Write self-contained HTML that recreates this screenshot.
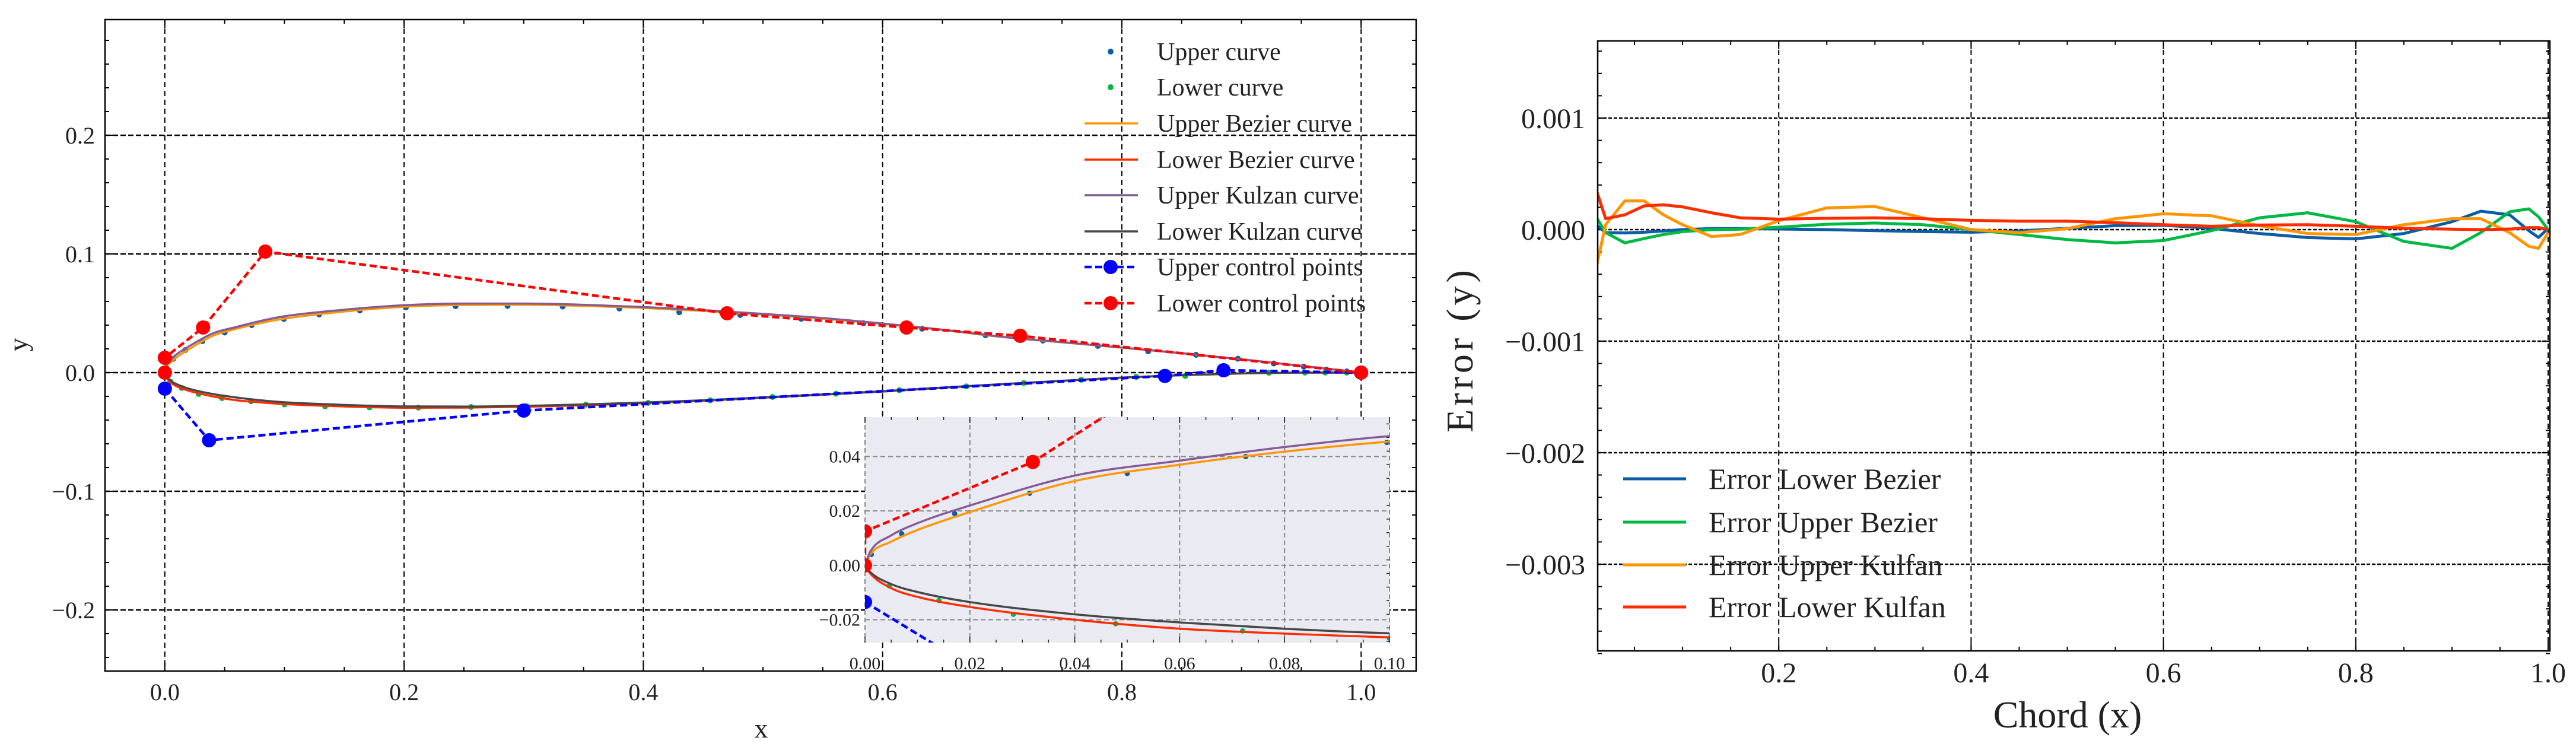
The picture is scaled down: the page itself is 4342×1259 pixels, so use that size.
<!DOCTYPE html>
<html><head><meta charset="utf-8"><style>
html,body{margin:0;padding:0;background:#fff;}
svg{display:block;font-family:"Liberation Serif",serif;}
</style></head><body>
<svg id="fig" width="4342" height="1259" viewBox="0 0 4342 1259" xmlns="http://www.w3.org/2000/svg">
<defs>
<clipPath id="clipL"><rect x="177" y="33" width="2210" height="1098"/></clipPath>
<clipPath id="clipI"><rect x="1458" y="703" width="884" height="380"/></clipPath>
<clipPath id="clipR"><rect x="2693" y="69" width="1605" height="1028"/></clipPath>
</defs>
<g id="left"></g>
<g id="inset"></g>
<g id="right"></g>
</svg>
<script>
// ---- airfoil data ----
const curveX = [0,0.001,0.005,0.01,0.02,0.04,0.06,0.08,0.1,0.15,0.2,0.25,0.3,0.35,0.4,0.45,0.5,0.55,0.6,0.65,0.7,0.75,0.8,0.85,0.9,0.95,1.0];
const upperBezier = [0,0.004,0.0087,0.013,0.0196,0.031,0.037,0.0418,0.0455,0.0515,0.0555,0.057,0.0572,0.0562,0.0545,0.052,0.049,0.0455,0.041,0.036,0.030,0.0255,0.021,0.0163,0.0112,0.0057,0];
const upperKulfan = [0,0.005,0.011,0.0155,0.022,0.033,0.0385,0.0435,0.0475,0.053,0.0568,0.0582,0.0582,0.0572,0.0553,0.0527,0.0495,0.046,0.0414,0.0362,0.0302,0.0257,0.0211,0.0164,0.0112,0.0057,0];
const lowerBezier = [0,-0.003,-0.0084,-0.0116,-0.0153,-0.020,-0.0233,-0.0251,-0.0265,-0.0285,-0.0296,-0.0295,-0.0288,-0.0275,-0.0258,-0.0238,-0.0212,-0.0186,-0.016,-0.0128,-0.0098,-0.007,-0.0042,-0.0022,-0.0007,0,0];
const lowerKulfan = [0,-0.0025,-0.0069,-0.0098,-0.0135,-0.018,-0.021,-0.0233,-0.025,-0.0272,-0.0285,-0.0286,-0.028,-0.0268,-0.0252,-0.0233,-0.0209,-0.0184,-0.0157,-0.0126,-0.0097,-0.0069,-0.0042,-0.0022,-0.0007,0,0];
const upperDotX = [0.0012,0.007,0.0171,0.0314,0.05,0.0726,0.0995,0.129,0.163,0.2015,0.243,0.2865,0.3326,0.38,0.43,0.481,0.532,0.584,0.633,0.686,0.734,0.78,0.822,0.862,0.897,0.927,0.952,0.971,0.988];
const upperDotY = [0.004,0.0116,0.019,0.0265,0.0338,0.040,0.0452,0.049,0.0524,0.055,0.056,0.0562,0.0557,0.054,0.0509,0.0486,0.0453,0.0416,0.037,0.0315,0.027,0.0225,0.018,0.015,0.0117,0.0077,0.005,0.0025,0.001];
const lowerDotX = [0.0046,0.0141,0.0283,0.0478,0.072,0.1,0.134,0.171,0.212,0.256,0.3025,0.352,0.404,0.456,0.508,0.561,0.614,0.67,0.718,0.766,0.812,0.853,0.888,0.923,0.953,0.97,0.988];
const lowerDotY = [-0.0075,-0.0129,-0.018,-0.0215,-0.0241,-0.0268,-0.0284,-0.0293,-0.0295,-0.029,-0.0284,-0.027,-0.0255,-0.0234,-0.0205,-0.0178,-0.0148,-0.0116,-0.0088,-0.006,-0.0036,-0.0028,-0.0008,-0.0001,0,0,0];
const upperCtrlX = [0,0.037,0.3,0.836,0.885,1.0];
const upperCtrlY = [-0.0135,-0.057,-0.032,-0.0028,0.002,0];
const lowerCtrlX = [0,0,0.032,0.084,0.47,0.62,0.715,1.0];
const lowerCtrlY = [0,0.0125,0.038,0.102,0.05,0.038,0.031,0];
const mainXTicks = [0,0.2,0.4,0.6,0.8,1.0];
const mainXTickLabels = ["0.0","0.2","0.4","0.6","0.8","1.0"];
const mainYTicks = [-0.2,-0.1,0,0.1,0.2];
const mainYTickLabels = ["\u22120.2","\u22120.1","0.0","0.1","0.2"];
const insetXTicks = [0,0.02,0.04,0.06,0.08,0.1];
const insetXTickLabels = ["0.00","0.02","0.04","0.06","0.08","0.10"];
const insetYTicks = [-0.02,0,0.02,0.04];
const insetYTickLabels = ["\u22120.02","0.00","0.02","0.04"];
// ---- error data ----
const errX = [0.01,0.02,0.04,0.06,0.08,0.1,0.13,0.16,0.2,0.25,0.3,0.35,0.4,0.45,0.5,0.55,0.6,0.65,0.7,0.75,0.8,0.85,0.9,0.93,0.96,0.98,0.99,1.0];
const errLowerBezier = [0.44,-0.27,-0.3,-0.23,-0.12,0,0.09,0.09,0.05,0,-0.09,-0.18,-0.23,-0.12,0.12,0.35,0.39,0.12,-0.35,-0.71,-0.83,-0.35,0.71,1.65,1.33,-0.1,-0.7,0.1];
const errUpperBezier = [1.15,-0.27,-1.19,-0.8,-0.44,-0.18,0,0.04,0.21,0.48,0.59,0.44,0,-0.44,-0.89,-1.19,-0.98,-0.09,1.06,1.51,0.71,-1.06,-1.68,-0.27,1.6,1.86,1.15,0];
const errUpperKulfan = [-3.46,0.44,2.57,2.57,1.33,0.44,-0.62,-0.44,0.8,1.95,2.07,1.06,0,-0.27,0.09,0.98,1.42,1.24,0.35,-0.35,-0.44,0.44,0.98,0.98,-0.27,-1.5,-1.68,-0.27];
const errLowerKulfan = [3.63,0.98,1.33,2.13,2.22,2.04,1.51,1.06,0.94,1.01,1.06,0.98,0.83,0.76,0.76,0.62,0.44,0.3,0.41,0.44,0.3,0.12,0.04,0,0.05,0.18,0.18,0];
const errScale = 1e-4;
const errXTicks = [0.2,0.4,0.6,0.8,1.0];
const errXTickLabels = ["0.2","0.4","0.6","0.8","1.0"];
const errYTicks = [-0.003,-0.002,-0.001,0,0.001];
const errYTickLabels = ["\u22120.003","\u22120.002","\u22120.001","0.000","0.001"];

const NS="http://www.w3.org/2000/svg";
function mk(parent,tag,attrs,text){const e=document.createElementNS(NS,tag);for(const k in attrs)e.setAttribute(k,attrs[k]);if(text!==undefined)e.textContent=text;parent.appendChild(e);return e;}
function lin(d0,d1,r0,r1){return v=>r0+(v-d0)*(r1-r0)/(d1-d0);}
function monoPath(xs,ys){
 const n=xs.length; if(n<2)return "";
 const d=[],m=new Array(n);
 for(let i=0;i<n-1;i++){const dx=xs[i+1]-xs[i];d.push(dx===0?0:(ys[i+1]-ys[i])/dx);}
 m[0]=d[0];m[n-1]=d[n-2];
 for(let i=1;i<n-1;i++){m[i]=(d[i-1]*d[i]<=0)?0:(d[i-1]+d[i])/2;}
 for(let i=0;i<n-1;i++){if(d[i]===0){m[i]=0;m[i+1]=0;continue;}const a=m[i]/d[i],b=m[i+1]/d[i],s=a*a+b*b;if(s>9){const t=3/Math.sqrt(s);m[i]=t*a*d[i];m[i+1]=t*b*d[i];}}
 let p="M"+xs[0].toFixed(2)+","+ys[0].toFixed(2);
 for(let i=0;i<n-1;i++){const h=(xs[i+1]-xs[i])/3;p+=" C"+(xs[i]+h).toFixed(2)+","+(ys[i]+m[i]*h).toFixed(2)+" "+(xs[i+1]-h).toFixed(2)+","+(ys[i+1]-m[i+1]*h).toFixed(2)+" "+xs[i+1].toFixed(2)+","+ys[i+1].toFixed(2);}
 return p;
}
function poly(xs,ys){return xs.map((x,i)=>(i?"L":"M")+x.toFixed(2)+","+ys[i].toFixed(2)).join(" ");}

// ===== LEFT CHART =====
const L=document.getElementById('left');
const LX0=177,LX1=2387,LY0=33,LY1=1131;
const lx=lin(-0.05,1.046,LX0,LX1), ly=lin(-0.2515,0.2975,LY1,LY0);
const lgrid=mk(L,'g',{});


mainXTicks.forEach(t=>{mk(lgrid,'line',{x1:lx(t),x2:lx(t),y1:LY0,y2:LY1,stroke:'#000','stroke-width':2,'stroke-dasharray':'9,6'});});
mainYTicks.forEach(t=>{mk(lgrid,'line',{x1:LX0,x2:LX1,y1:ly(t),y2:ly(t),stroke:'#000','stroke-width':2.5,'stroke-dasharray':'9,4'});});
const lt=mk(L,'g',{stroke:'#000','stroke-width':2});
for(let v=-0.05;v<=1.05;v+=0.05){const x=lx(v);const major=mainXTicks.some(t=>Math.abs(t-v)<1e-6);const len=major?14:7;mk(lt,'line',{x1:x,x2:x,y1:LY1,y2:LY1-len});mk(lt,'line',{x1:x,x2:x,y1:LY0,y2:LY0+len});}
for(let v=-0.24;v<=0.29;v+=0.02){const y=ly(v);const major=mainYTicks.some(t=>Math.abs(t-v)<1e-6);const len=major?14:7;mk(lt,'line',{x1:LX0,x2:LX0+len,y1:y,y2:y});mk(lt,'line',{x1:LX1,x2:LX1-len,y1:y,y2:y});}
mainXTicks.forEach((t,i)=>{const e=mk(L,'text',{x:lx(t),y:1180,'font-size':40,'text-anchor':'middle',fill:'#222'},mainXTickLabels[i]);});
mainYTicks.forEach((t,i)=>{const e=mk(L,'text',{x:160,y:ly(t)+14,'font-size':40,'text-anchor':'end',fill:'#222'},mainYTickLabels[i]);});
let xt=mk(L,'text',{x:1283,y:1243,'font-size':46,'text-anchor':'middle',fill:'#222'},'x');

let yt=mk(L,'text',{x:0,y:0,'font-size':46,'text-anchor':'middle',fill:'#222',transform:'translate(46,581) rotate(-90)'},'y');


function drawAirfoil(G,X,Y,clip,dotR,ctrlR,lw){
 const g=mk(G,'g',{'clip-path':'url(#'+clip+')'});
 const ud=mk(g,'g',{fill:'#0C5DA5'});
 upperDotX.forEach((x,i)=>mk(ud,'circle',{cx:X(x),cy:Y(upperDotY[i]),r:dotR}));
 const ld=mk(g,'g',{fill:'#00B945'});
 lowerDotX.forEach((x,i)=>mk(ld,'circle',{cx:X(x),cy:Y(lowerDotY[i]),r:dotR}));
 const px=curveX.map(X);
 const c1=mk(g,'path',{d:monoPath(px,upperBezier.map(Y)),fill:'none',stroke:'#FF9500','stroke-width':lw});
 const c2=mk(g,'path',{d:monoPath(px,lowerBezier.map(Y)),fill:'none',stroke:'#FF2C00','stroke-width':lw});
 const c3=mk(g,'path',{d:monoPath(px,upperKulfan.map(Y)),fill:'none',stroke:'#845B97','stroke-width':lw});
 const c4=mk(g,'path',{d:monoPath(px,lowerKulfan.map(Y)),fill:'none',stroke:'#474747','stroke-width':lw});
 const uc=mk(g,'g',{});
 mk(uc,'path',{d:poly(upperCtrlX.map(X),upperCtrlY.map(Y)),fill:'none',stroke:'#0000ff','stroke-width':lw+1,'stroke-dasharray':'12,6'});
 upperCtrlX.forEach((x,i)=>mk(uc,'circle',{cx:X(x),cy:Y(upperCtrlY[i]),r:ctrlR,fill:'#0000ff'}));
 const lc=mk(g,'g',{});
 mk(lc,'path',{d:poly(lowerCtrlX.map(X),lowerCtrlY.map(Y)),fill:'none',stroke:'#ff0000','stroke-width':lw+1,'stroke-dasharray':'12,6'});
 lowerCtrlX.forEach((x,i)=>mk(lc,'circle',{cx:X(x),cy:Y(lowerCtrlY[i]),r:ctrlR,fill:'#ff0000'}));
}
drawAirfoil(L,lx,ly,'clipL',5,12,3.5);
const lframe=mk(L,'rect',{x:LX0,y:LY0,width:LX1-LX0,height:LY1-LY0,fill:'none',stroke:'#000','stroke-width':2.5});


const leg=mk(L,'g',{});

const legLabels=["Upper curve","Lower curve","Upper Bezier curve","Lower Bezier curve","Upper Kulzan curve","Lower Kulzan curve","Upper control points","Lower control points"];
const legColors=["#0C5DA5","#00B945","#FF9500","#FF2C00","#845B97","#474747","#0000ff","#ff0000"];
const legRows=[87,147,208,269,329,390,450,511];
legLabels.forEach((lab,i)=>{
 const g=mk(leg,'g',{});
 
 const y=legRows[i];
 if(i<2){mk(g,'circle',{cx:1872,cy:y,r:5,fill:legColors[i]});}
 else if(i<6){mk(g,'line',{x1:1828,x2:1918,y1:y,y2:y,stroke:legColors[i],'stroke-width':3.5});}
 else{mk(g,'line',{x1:1828,x2:1918,y1:y,y2:y,stroke:legColors[i],'stroke-width':4.5,'stroke-dasharray':'12,6'});mk(g,'circle',{cx:1872,cy:y,r:12,fill:legColors[i]});}
 mk(g,'text',{x:1950,y:y+14,'font-size':42,fill:'#222'},lab);
});

// ===== INSET =====
const I=document.getElementById('inset');
const IX0=1458,IX1=2342,IY0=703,IY1=1083;
const ix=lin(0,0.1,IX0,IX1), iy=lin(-0.0284,0.0545,IY1,IY0);
mk(I,'rect',{x:IX0,y:IY0,width:IX1-IX0,height:IY1-IY0,fill:'#EAEAF2'});
const ig=mk(I,'g',{stroke:'#888','stroke-width':2,'stroke-dasharray':'8,5'});
insetXTicks.forEach(t=>mk(ig,'line',{x1:ix(t),x2:ix(t),y1:IY0,y2:IY1}));
insetYTicks.forEach(t=>mk(ig,'line',{x1:IX0,x2:IX1,y1:iy(t),y2:iy(t)}));
drawAirfoil(I,ix,iy,'clipI',4.5,12,3.5);
const itk=mk(I,'g',{stroke:'#222','stroke-width':1.5});
for(let v=0;v<=0.1001;v+=0.005){const x=ix(v);const major=Math.abs(v*50-Math.round(v*50))<1e-6;const len=major?10:5;mk(itk,'line',{x1:x,x2:x,y1:IY1,y2:IY1-len});mk(itk,'line',{x1:x,x2:x,y1:IY0,y2:IY0+len});}
for(let v=-0.028;v<=0.054;v+=0.005){const y=iy(v);mk(itk,'line',{x1:IX1,x2:IX1-5,y1:y,y2:y});}
insetXTicks.forEach((t,i)=>{const e=mk(I,'text',{x:ix(t),y:1128,'font-size':30,'text-anchor':'middle',fill:'#222'},insetXTickLabels[i]);});
insetYTicks.forEach((t,i)=>{const e=mk(I,'text',{x:1450,y:iy(t)+10,'font-size':30,'text-anchor':'end',fill:'#222'},insetYTickLabels[i]);});

// ===== RIGHT CHART =====
const R=document.getElementById('right');
const RX0=2693,RX1=4298,RY0=69,RY1=1097;
const rx=lin(0,1,2674,4295), ry=lin(0,0.001,387,199);
const rg=mk(R,'g',{stroke:'#000','stroke-width':2});

errXTicks.forEach(t=>mk(rg,'line',{x1:rx(t),x2:rx(t),y1:RY0,y2:RY1,'stroke-dasharray':'9,6'}));
errYTicks.forEach(t=>mk(rg,'line',{x1:RX0,x2:RX1,y1:ry(t),y2:ry(t),'stroke-dasharray':'6,3','stroke-width':2.5}));
const rtk=mk(R,'g',{stroke:'#000','stroke-width':2});
for(let k=1;k<=20;k++){const v=k*0.05;const x=rx(v);const major=k%4===0;const len=major?14:7;mk(rtk,'line',{x1:x,x2:x,y1:RY1,y2:RY1-len});mk(rtk,'line',{x1:x,x2:x,y1:RY0,y2:RY0+len});}
for(let k=-19;k<=8;k++){const v=k*0.0002;const y=ry(v);const major=k%5===0;const len=major?14:7;mk(rtk,'line',{x1:RX0,x2:RX0+len,y1:y,y2:y});mk(rtk,'line',{x1:RX1,x2:RX1-len,y1:y,y2:y});}
const rs=mk(R,'g',{'clip-path':'url(#clipR)',fill:'none','stroke-width':5,'stroke-linejoin':'round'});
const pxE=errX.map(rx);
const series=[[errLowerBezier,'#0C5DA5','error-lower-bezier-line'],[errUpperBezier,'#00B945','error-upper-bezier-line'],[errUpperKulfan,'#FF9500','error-upper-kulfan-line'],[errLowerKulfan,'#FF2C00','error-lower-kulfan-line']];
series.forEach(s=>{const p=mk(rs,'path',{d:poly(pxE,s[0].map(v=>ry(v*errScale))),stroke:s[1]});});
const rframe=mk(R,'rect',{x:RX0,y:RY0,width:RX1-RX0,height:RY1-RY0,fill:'none',stroke:'#000','stroke-width':2.5});

errXTicks.forEach((t,i)=>{const e=mk(R,'text',{x:rx(t),y:1150,'font-size':48,'text-anchor':'middle',fill:'#222'},errXTickLabels[i]);});
errYTicks.forEach((t,i)=>{const e=mk(R,'text',{x:2672,y:ry(t)+17,'font-size':48,'text-anchor':'end',fill:'#222'},errYTickLabels[i]);});
let rxt=mk(R,'text',{x:3485,y:1226,'font-size':64,'text-anchor':'middle',fill:'#222'},'Chord (x)');

let ryt=mk(R,'text',{x:0,y:0,'font-size':64,'text-anchor':'middle',fill:'#222','letter-spacing':6,transform:'translate(2482,589) rotate(-90)'},'Error (y)');

const rleg=mk(R,'g',{});

const rLabels=["Error Lower Bezier","Error Upper Bezier","Error Upper Kulfan","Error Lower Kulfan"];
const rColors=["#0C5DA5","#00B945","#FF9500","#FF2C00"];
const rRows=[807,880,952,1023];
rLabels.forEach((lab,i)=>{const g=mk(rleg,'g',{});
 
 mk(g,'line',{x1:2736,x2:2842,y1:rRows[i],y2:rRows[i],stroke:rColors[i],'stroke-width':5});
 mk(g,'text',{x:2880,y:rRows[i]+17,'font-size':50,fill:'#222'},lab);});
</script>
</body></html>
